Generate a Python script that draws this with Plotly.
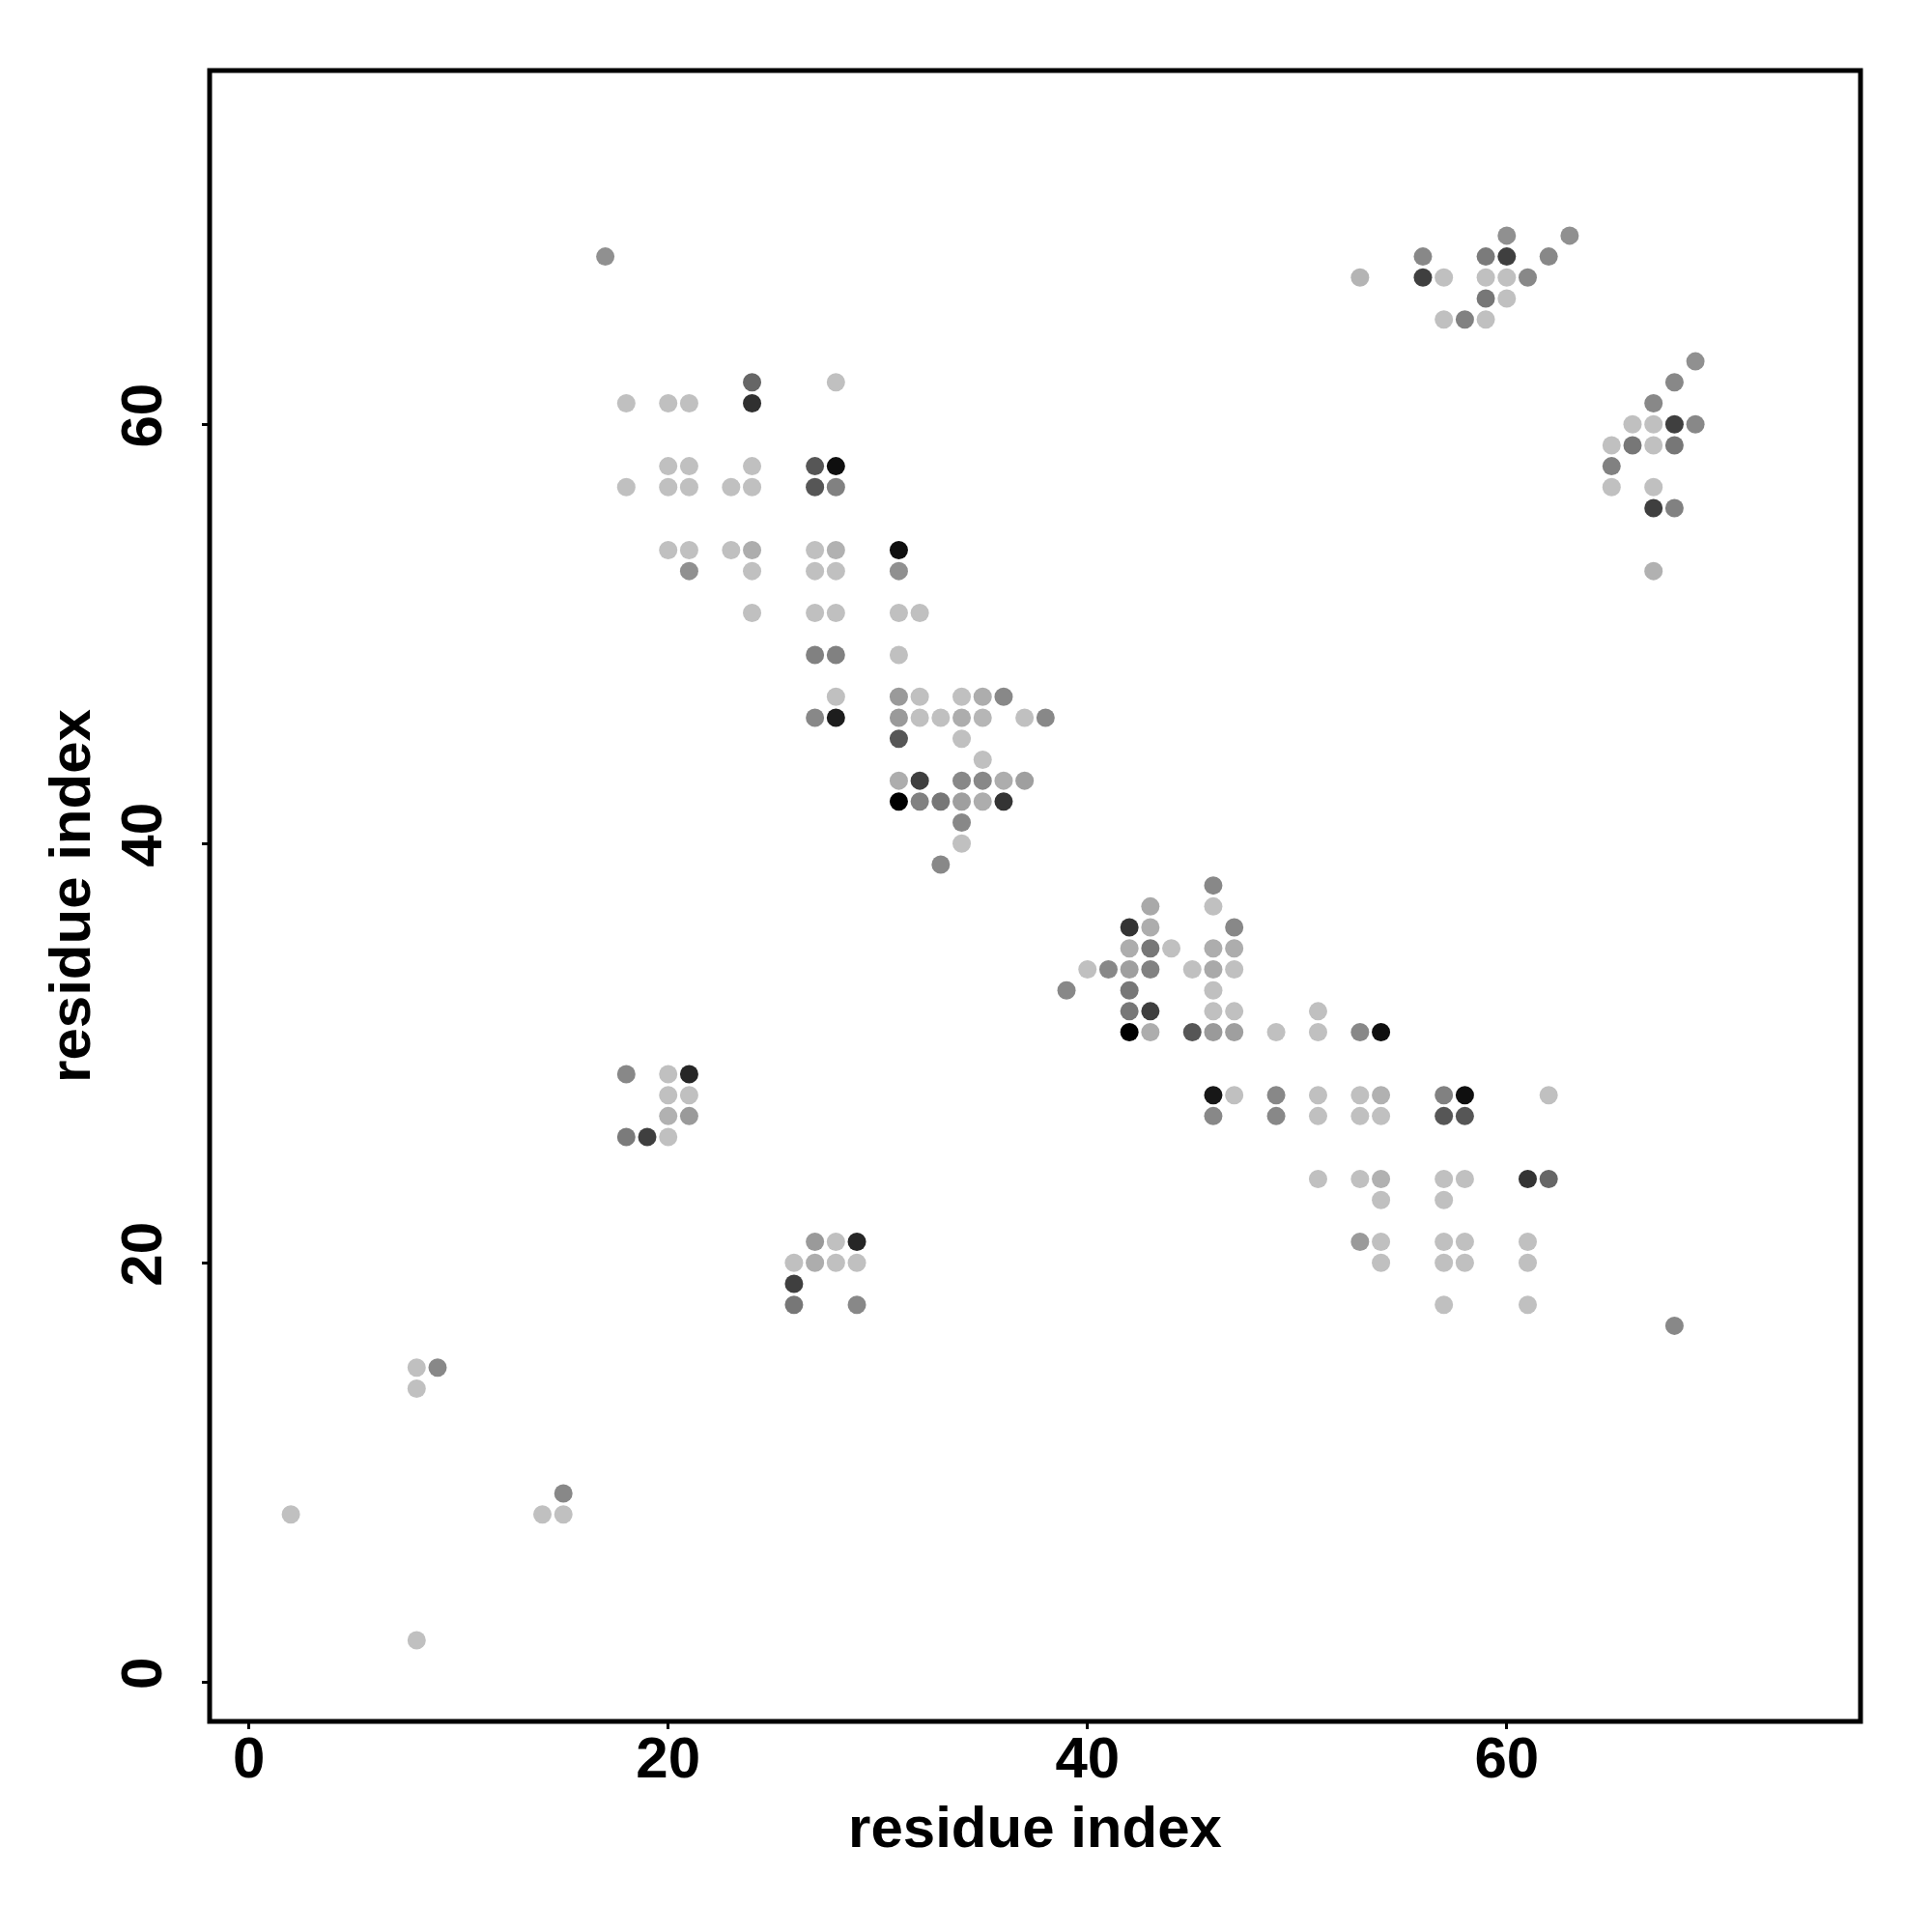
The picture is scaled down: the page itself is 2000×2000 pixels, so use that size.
import plotly.graph_objects as go

# Contact map: residue pairs (i, j) and contact score (0 = weakest/light grey, 1 = strongest/black)
res_i = [
    2, 8, 8, 9, 8, 14, 15, 15, 17,
    18, 20, 21, 20, 21, 20, 21, 18, 19, 20,
    27, 28, 29, 26, 27, 28, 29, 26, 26, 29,
    24, 28,
    18, 20, 21, 24,
    20, 21, 24, 27, 28,
    18, 20, 21, 23, 24, 27, 28,
    20, 21, 23, 24, 27, 28, 31,
    21, 24, 27, 28, 31,
    24, 27, 28, 31, 32,
    27, 28, 31,
    28, 31, 32, 34, 35, 36,
    27, 28, 31, 32, 33, 34, 35, 37, 38,
    31, 34,
    35,
    31, 32, 34, 35, 36, 37,
    31, 32, 33, 34, 35, 36,
    34, 34, 33,
    46,
    43, 46,
    42, 43, 47,
    42, 43, 44, 46, 47,
    40, 41, 42, 43, 45, 46, 47,
    39, 42, 46,
    42, 43, 46, 47, 51,
    42, 43, 45, 46, 47, 49, 51, 53, 54,
    46, 47, 49, 51, 53, 54, 57, 58, 62,
    46, 49, 51, 53, 54, 57, 58,
    51, 53, 54, 57, 58, 61, 62,
    54, 57,
    53, 54, 57, 58, 61,
    54, 57, 58, 61,
    57, 61,
    68,
    60, 63,
    56, 59, 60, 62,
    53, 56, 57, 59, 60, 61,
    59, 60,
    57, 58, 59,
    69, 68, 67,
    66, 67, 68, 69,
    65, 66, 67, 68,
    65,
    65, 67,
    67, 68,
    67,
]
res_j = [
    8, 2, 15, 15, 14, 8, 8, 9, 68,
    29, 29, 29, 28, 28, 27, 27, 26, 26, 26,
    21, 21, 21, 20, 20, 20, 20, 19, 18, 18,
    62, 62,
    61, 61, 61, 61,
    58, 58, 58, 58, 58,
    57, 57, 57, 57, 57, 57, 57,
    54, 54, 54, 54, 54, 54, 54,
    53, 53, 53, 53, 53,
    51, 51, 51, 51, 51,
    49, 49, 49,
    47, 47, 47, 47, 47, 47,
    46, 46, 46, 46, 46, 46, 46, 46, 46,
    45, 45,
    44,
    43, 43, 43, 43, 43, 43,
    42, 42, 42, 42, 42, 42,
    41, 40, 39,
    38,
    37, 37,
    36, 36, 36,
    35, 35, 35, 35, 35,
    34, 34, 34, 34, 34, 34, 34,
    33, 33, 33,
    32, 32, 32, 32, 32,
    31, 31, 31, 31, 31, 31, 31, 31, 31,
    28, 28, 28, 28, 28, 28, 28, 28, 28,
    27, 27, 27, 27, 27, 27, 27,
    24, 24, 24, 24, 24, 24, 24,
    23, 23,
    21, 21, 21, 21, 21,
    20, 20, 20, 20,
    18, 18,
    17,
    69, 69,
    68, 68, 68, 68,
    67, 67, 67, 67, 67, 67,
    66, 66,
    65, 65, 65,
    63, 62, 61,
    60, 60, 60, 60,
    59, 59, 59, 59,
    58,
    57, 57,
    56, 56,
    53,
]
score = [
    0, 0, 0, 0.29, 0, 0, 0, 0.29, 0.25,
    0.29, 0, 0.8, 0, 0, 0.08, 0.2, 0.36, 0.67, 0,
    0.2, 0, 0.8, 0, 0.1, 0, 0, 0.67, 0.38, 0.29,
    0.47, 0,
    0, 0, 0, 0.75,
    0, 0, 0, 0.55, 0.92,
    0, 0, 0, 0, 0, 0.55, 0.33,
    0, 0, 0, 0.1, 0, 0.08, 0.92,
    0.25, 0, 0, 0, 0.25,
    0, 0, 0, 0, 0,
    0.33, 0.33, 0,
    0, 0.2, 0, 0, 0.1, 0.29,
    0.29, 0.85, 0.2, 0, 0, 0.1, 0.05, 0, 0.29,
    0.55, 0,
    0,
    0.1, 0.67, 0.29, 0.29, 0.1, 0.17,
    1.0, 0.33, 0.38, 0.17, 0.1, 0.73,
    0.29, 0, 0.29,
    0.29,
    0.12, 0,
    0.73, 0.1, 0.29,
    0.1, 0.38, 0, 0.1, 0.1,
    0, 0.29, 0.17, 0.33, 0, 0.12, 0,
    0.29, 0.38, 0,
    0.38, 0.67, 0, 0, 0,
    1.0, 0.1, 0.55, 0.2, 0.17, 0, 0, 0.29, 0.92,
    0.88, 0, 0.29, 0, 0, 0.08, 0.33, 0.92, 0,
    0.29, 0.29, 0, 0, 0, 0.55, 0.55,
    0, 0, 0.08, 0, 0, 0.73, 0.47,
    0, 0,
    0.2, 0, 0, 0, 0,
    0, 0, 0, 0,
    0, 0,
    0.29,
    0.25, 0.25,
    0.29, 0.36, 0.67, 0.29,
    0.06, 0.67, 0, 0, 0, 0.29,
    0.38, 0,
    0, 0.33, 0,
    0.25, 0.29, 0.29,
    0, 0, 0.67, 0.29,
    0, 0.38, 0, 0.38,
    0.33,
    0, 0,
    0.67, 0.33,
    0.08,
]

tick_vals = [0, 20, 40, 60]
tick_text = ["0", "20", "40", "60"]
axis_label = "residue index"

FONT = "Liberation Sans, Arial, Helvetica, sans-serif"

fig = go.Figure(
    go.Scatter(
        x=res_i,
        y=res_j,
        mode="markers",
        marker=dict(
            size=19,
            color=score,
            cmin=0,
            cmax=1,
            colorscale=[[0, "rgb(192,192,192)"], [1, "rgb(0,0,0)"]],
            showscale=False,
            line=dict(width=0),
        ),
        hoverinfo="skip",
    )
)

axis_common = dict(
    range=[-1.875, 76.875],
    tickvals=tick_vals,
    ticktext=tick_text,
    ticks="outside",
    ticklen=7,
    tickwidth=2.5,
    tickcolor="black",
    showgrid=False,
    zeroline=False,
    showline=False,
    tickfont=dict(family=FONT, size=60, color="black", weight="bold"),
)

fig.update_layout(
    width=2000,
    height=2000,
    margin=dict(l=209, r=82, t=65, b=226),
    paper_bgcolor="white",
    plot_bgcolor="white",
    showlegend=False,
    xaxis=dict(
        **axis_common,
        ticklabelstandoff=-22,
        title=dict(text=axis_label, font=dict(family=FONT, size=60, color="black", weight="bold"), standoff=17),
    ),
    yaxis=dict(
        **axis_common,
        tickangle=-90,
        ticklabelstandoff=18,
        title=dict(text=axis_label, font=dict(family=FONT, size=60, color="black", weight="bold"), standoff=0),
    ),
    shapes=[
        dict(
            type="rect",
            xref="paper",
            yref="paper",
            x0=0,
            x1=1,
            y0=0,
            y1=1,
            line=dict(color="black", width=5),
            layer="above",
        )
    ],
)

fig.write_html("out.html", config={"displayModeBar": False})
